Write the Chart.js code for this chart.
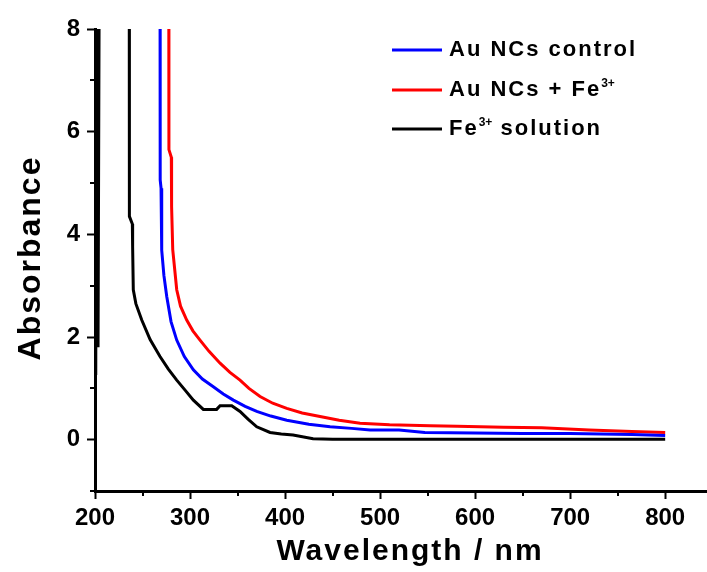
<!DOCTYPE html>
<html>
<head>
<meta charset="utf-8">
<title>UV-Vis absorbance</title>
<script src="https://cdn.jsdelivr.net/npm/chart.js@4.4.1/dist/chart.umd.min.js"></script>
<style>
  html, body { margin: 0; padding: 0; background: #fff; }
  #wrap { width: 707px; height: 572px; }
</style>
</head>
<body>
<div id="wrap"><canvas id="uvChart" width="707" height="572"></canvas></div>
<script>
// spectra, wavelength (nm) / absorbance pairs
var controlWl  = [268.4, 268.6, 269.5, 270.2, 272.5, 275.5, 280, 286, 294, 303.5, 313, 324.5, 335, 345.6, 358, 370.2, 385, 401.8, 425, 447.4, 470, 489.5, 520, 547, 600, 650, 700, 765, 800];
var controlAbs = [10, 5.06, 4.9, 3.69, 3.2, 2.79, 2.3, 1.94, 1.62, 1.36, 1.18, 1.03, 0.89, 0.77, 0.65, 0.55, 0.46, 0.38, 0.3, 0.25, 0.22, 0.19, 0.19, 0.14, 0.13, 0.12, 0.12, 0.1, 0.08];

var ironAuWl  = [277.6, 277.8, 280.3, 280.6, 281.8, 286, 290, 296.5, 303, 310.5, 320, 331.6, 342, 352.6, 362, 373.7, 387, 401.8, 418, 436.8, 457, 478.9, 510, 552.6, 581, 630, 670, 720, 765, 800];
var ironAuAbs = [10, 5.65, 5.5, 4.54, 3.7, 2.92, 2.6, 2.33, 2.12, 1.94, 1.72, 1.49, 1.31, 1.16, 1.0, 0.84, 0.71, 0.61, 0.52, 0.45, 0.38, 0.32, 0.29, 0.27, 0.26, 0.24, 0.23, 0.19, 0.16, 0.14];

var ironWl  = [200.8, 201.6, 203.2, 204.6, 236, 236.2, 239.3, 239.6, 240.3, 243, 249.2, 258, 268.4, 277, 286, 295, 303.5, 314, 328, 331.6, 343.9, 352.6, 361, 370.2, 384.2, 396, 408.4, 429.5, 450, 600, 800];
var ironAbs = [1.26, 10, 1.8, 10, 10, 4.35, 4.2, 3.76, 2.92, 2.65, 2.33, 1.95, 1.62, 1.38, 1.16, 0.96, 0.77, 0.59, 0.59, 0.66, 0.66, 0.55, 0.4, 0.25, 0.14, 0.11, 0.09, 0.02, 0.01, 0.01, 0.01];

var seriesNames  = ['Au NCs control', 'Au NCs + Fe', 'Fe'];
var seriesColors = ['#0000ff', '#ff0000', '#000000'];

var xTickLabels = [200, 300, 400, 500, 600, 700, 800];
var yTickLabels = [0, 2, 4, 6, 8];

var FONT = "'Liberation Sans', Arial, sans-serif";

function pairs(wl, ab) {
	var out = [];
	for (var i = 0; i < wl.length; i++) out.push({ x: wl[i], y: ab[i] });
	return out;
}

// short ticks between the labelled ones, axis titles and the legend box
var axisExtras = {
	id: 'axisExtras',
	afterDraw: function (chart) {
		var ctx = chart.ctx;
		var xs = chart.scales.x, ys = chart.scales.y, a = chart.chartArea;
		ctx.save();
		ctx.strokeStyle = '#000';
		ctx.lineWidth = 2;
		ctx.beginPath();
		xs.ticks.forEach(function (t) {
			if (xTickLabels.indexOf(t.value) < 0) {
				var px = Math.round(xs.getPixelForValue(t.value));
				ctx.moveTo(px, a.bottom);
				ctx.lineTo(px, a.bottom + 5);
			}
		});
		ys.ticks.forEach(function (t) {
			if (yTickLabels.indexOf(t.value) < 0) {
				var py = Math.round(ys.getPixelForValue(t.value));
				ctx.moveTo(a.left, py);
				ctx.lineTo(a.left - 5, py);
			}
		});
		ctx.stroke();

		ctx.fillStyle = '#000';
		ctx.letterSpacing = '2px';

		// x title
		ctx.font = 'bold 30px ' + FONT;
		ctx.textAlign = 'center';
		ctx.textBaseline = 'alphabetic';
		ctx.fillText('Wavelength / nm', 410, 560);

		// y title
		ctx.save();
		ctx.translate(40, 258);
		ctx.rotate(-Math.PI / 2);
		ctx.font = 'bold 32px ' + FONT;
		ctx.fillText('Absorbance', 0, 0);
		ctx.restore();

		// legend
		var rows = [
			[[seriesNames[0], false]],
			[[seriesNames[1], false], ['3+', true]],
			[[seriesNames[2], false], ['3+', true], [' solution', false]]
		];
		var lineY = [50, 90, 129];
		var baseY = [56, 96, 135];
		ctx.textAlign = 'left';
		for (var i = 0; i < rows.length; i++) {
			ctx.strokeStyle = seriesColors[i];
			ctx.lineWidth = 3;
			ctx.beginPath();
			ctx.moveTo(392, lineY[i]);
			ctx.lineTo(442, lineY[i]);
			ctx.stroke();

			var x = 449;
			rows[i].forEach(function (part) {
				if (part[1]) {
					ctx.font = 'bold 12px ' + FONT;
					ctx.letterSpacing = '0px';
					ctx.fillText(part[0], x, baseY[i] - 9);
				} else {
					ctx.font = 'bold 22px ' + FONT;
					ctx.letterSpacing = '2px';
					ctx.fillText(part[0], x, baseY[i]);
				}
				x += ctx.measureText(part[0]).width;
			});
		}
		ctx.restore();
	}
};

var ctx = document.getElementById('uvChart');
var uvChart = new Chart(ctx, {
	type: 'line',
	data: {
		datasets: [
			{ label: seriesNames[0], data: pairs(controlWl, controlAbs), borderColor: seriesColors[0] },
			{ label: seriesNames[1], data: pairs(ironAuWl, ironAuAbs), borderColor: seriesColors[1] },
			{ label: seriesNames[2], data: pairs(ironWl, ironAbs), borderColor: seriesColors[2] }
		]
	},
	options: {
		responsive: false,
		animation: false,
		devicePixelRatio: 1,
		layout: { padding: { top: 29, right: 0, bottom: 0, left: 0 } },
		plugins: {
			legend: { display: false },
			tooltip: { enabled: false }
		},
		elements: {
			point: { radius: 0 },
			line: { borderWidth: 3, tension: 0, fill: false }
		},
		scales: {
			x: {
				type: 'linear',
				min: 200,
				max: 844,
				border: { display: true, color: '#000', width: 3 },
				grid: {
					drawOnChartArea: false,
					tickLength: 8,
					tickWidth: 2,
					tickColor: function (c) {
						return c.tick && xTickLabels.indexOf(c.tick.value) >= 0 ? '#000' : 'rgba(0,0,0,0)';
					}
				},
				ticks: {
					stepSize: 50,
					includeBounds: false,
					autoSkip: false,
					maxRotation: 0,
					padding: 5,
					color: '#000',
					font: { family: FONT, size: 24, weight: 'bold' },
					callback: function (v) { return xTickLabels.indexOf(v) >= 0 ? v : ''; }
				},
				afterFit: function (s) { s.height = 81; }
			},
			y: {
				min: -1,
				max: 8,
				border: { display: true, color: '#000', width: 3 },
				grid: {
					drawOnChartArea: false,
					tickLength: 8,
					tickWidth: 2,
					tickColor: function (c) {
						return c.tick && yTickLabels.indexOf(c.tick.value) >= 0 ? '#000' : 'rgba(0,0,0,0)';
					}
				},
				ticks: {
					stepSize: 1,
					autoSkip: false,
					padding: 7,
					color: '#000',
					font: { family: FONT, size: 24, weight: 'bold' },
					callback: function (v) { return yTickLabels.indexOf(v) >= 0 ? v : ''; }
				},
				afterFit: function (s) { s.width = 95; }
			}
		}
	},
	plugins: [axisExtras]
});
</script>
</body>
</html>
